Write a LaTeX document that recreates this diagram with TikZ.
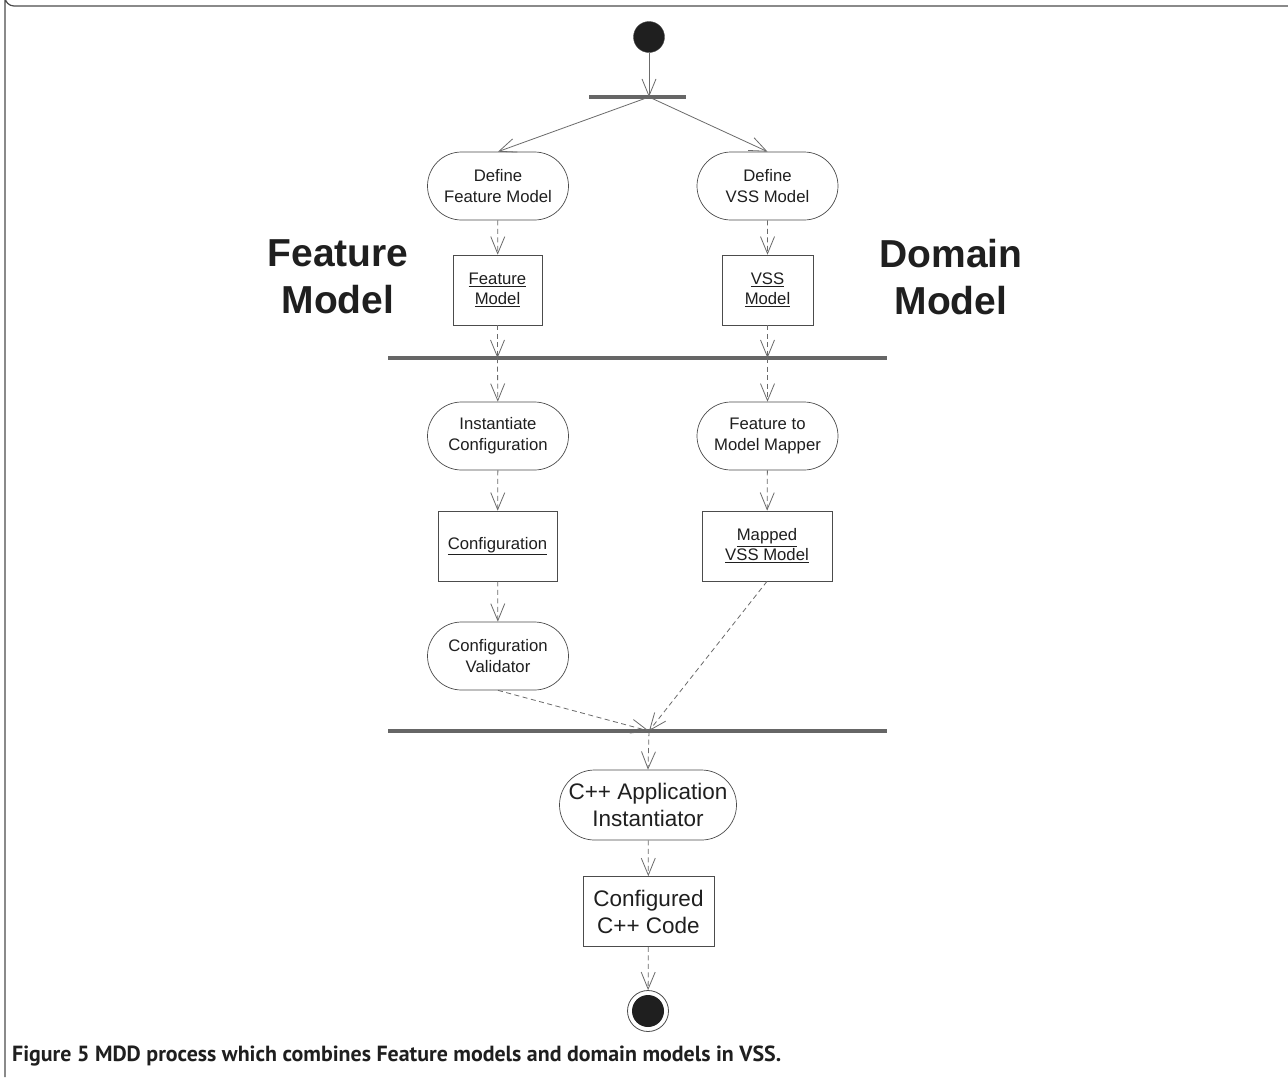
\documentclass[tikz,border=0pt]{standalone}
\usepackage{fontspec}
\setmainfont{Liberation Sans}
\newfontfamily\capfont{PT Sans}
\usetikzlibrary{arrows.meta,shapes.misc}
\definecolor{linegray}{gray}{0.42}
\definecolor{edgegray}{gray}{0.30}
\definecolor{bargray}{gray}{0.40}
\definecolor{inkdark}{gray}{0.12}
\begin{document}
\begin{tikzpicture}[x=1pt,y=-1pt,
  every node/.style={text=inkdark},
  action/.style={rounded rectangle, draw=edgegray, line width=0.7pt,
    minimum width=141pt, minimum height=68pt, inner sep=0pt, align=center,
    font=\fontsize{16.7}{21}\selectfont},
  bigaction/.style={action, minimum width=177pt, minimum height=70pt,
    font=\fontsize{22.5}{27}\selectfont},
  objbox/.style={rectangle, draw=edgegray, line width=0.7pt, inner sep=0pt,
    minimum height=70pt, align=center, font=\fontsize{16.7}{20}\selectfont},
  bigobj/.style={objbox, font=\fontsize{22.5}{27}\selectfont},
  syncbar/.style={rectangle, fill=bargray, inner sep=0pt, minimum height=4.5pt},
  flow/.style={draw=linegray, line width=0.8pt,
    -{Straight Barb[length=17pt,width=14pt,line width=0.8pt]}},
  dflow/.style={flow, dash pattern=on 5pt off 3.5pt},
  sidelabel/.style={align=center, font=\fontsize{39}{47}\selectfont\bfseries}]
\useasboundingbox (0,0) rectangle (1288,1077);
\fill[white] (0,0) rectangle (1288,1077);
% page frame
\draw[edgegray, line width=1.2pt] (1288,6) -- (14,6) arc[start angle=90, end angle=180, radius=9] -- (5,1077);

% start state and first fork
\node[circle, fill=inkdark, draw=edgegray, inner sep=0pt, minimum size=31pt] (start) at (649,37) {};
\node[syncbar, minimum width=97pt] (fork) at (637.5,97) {};
\coordinate (forkc) at (649,97);

% feature model branch
\node[action] (dfm) at (498,186) {Define\\Feature Model};
\node[objbox, minimum width=89pt] (fm) at (497.5,290) {\underline{Feature}\\\underline{Model}};
% domain model branch
\node[action] (dvss) at (767.5,186) {Define\\VSS Model};
\node[objbox, minimum width=91pt] (vss) at (767.5,290) {\underline{VSS}\\\underline{Model}};

\node[syncbar, minimum width=499pt] (join1) at (637.5,358) {};
\coordinate (j1a) at (497.5,358);
\coordinate (j1b) at (767.5,358);

\node[action] (inst) at (498,436) {Instantiate\\Configuration};
\node[action] (mapper) at (767.5,436) {Feature to\\Model Mapper};
\node[objbox, minimum width=119pt] (cfg) at (497.5,546) {\underline{Configuration}};
\node[objbox, minimum width=130pt] (mvss) at (767,546) {\underline{Mapped}\\\underline{VSS Model}};
\node[action] (valid) at (498,656) {Configuration\\Validator};

\node[syncbar, minimum width=499pt] (join2) at (637.5,731) {};
\coordinate (j2c) at (649,731);

\node[bigaction] (cpp) at (648,805) {C++ Application\\Instantiator};
\node[bigobj, minimum width=131pt] (code) at (648.5,911.5) {Configured\\C++ Code};

% final state
\node[circle, draw=edgegray, line width=0.8pt, fill=white, inner sep=0pt, minimum size=41pt] (final) at (648,1011) {};
\node[circle, fill=inkdark, inner sep=0pt, minimum size=32pt] (finalcore) at (final.center) {};

% side titles
\node[sidelabel] (fmlabel) at (338,277) {Feature\\Model};
\node[sidelabel] (dmlabel) at (951,277) {Domain\\Model};

% control and object flows
\draw[flow] (start) -- (forkc);
\draw[flow] (forkc) -- (dfm.north);
\draw[flow] (forkc) -- (dvss.north);
\draw[dflow] (dfm) -- (fm);
\draw[dflow] (dvss) -- (vss);
\draw[dflow] (fm) -- (j1a);
\draw[dflow] (vss) -- (j1b);
\draw[dflow] (j1a) -- (inst);
\draw[dflow] (j1b) -- (mapper);
\draw[dflow] (inst) -- (cfg);
\draw[dflow] (mapper) -- (mvss);
\draw[dflow] (cfg) -- (valid);
\draw[dflow] (valid.south) -- (j2c);
\draw[dflow] (mvss.south) -- (j2c);
\draw[dflow] (j2c) -- (cpp.north);
\draw[dflow] (cpp) -- (code);
\draw[dflow] (code) -- (final);

% caption
\node[anchor=west, inner sep=0pt, font=\capfont\fontsize{21.9}{26}\selectfont\bfseries] (caption) at (12,1056)
  {Figure 5 MDD process which combines Feature models and domain models in VSS.};
\end{tikzpicture}
\end{document}
